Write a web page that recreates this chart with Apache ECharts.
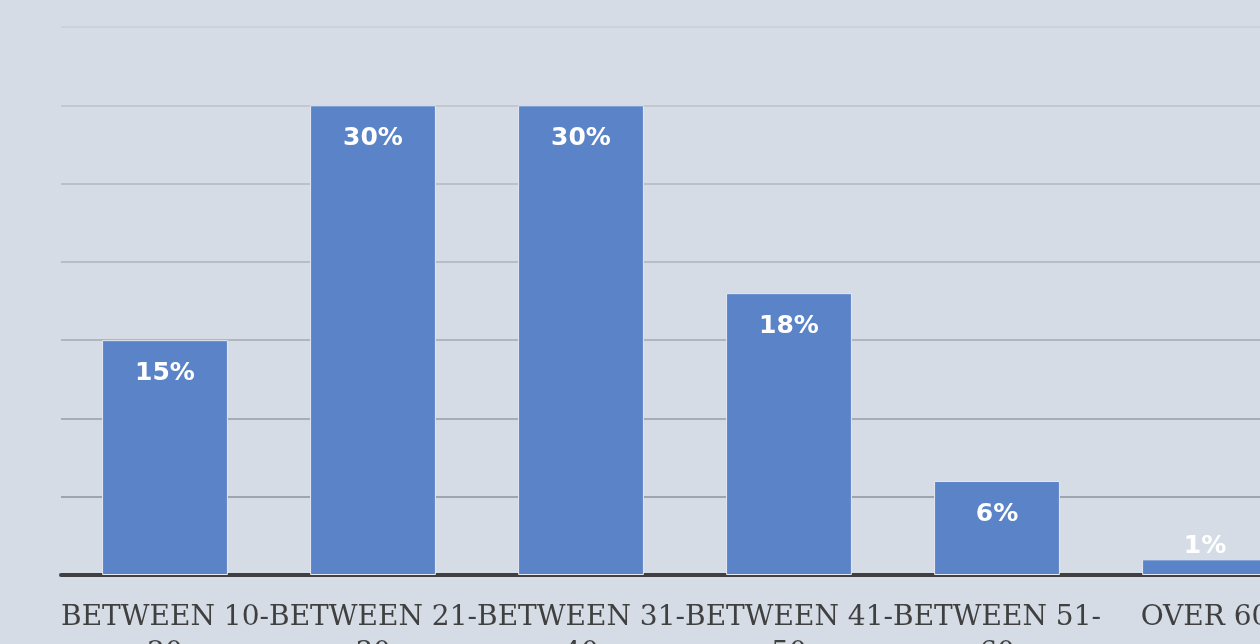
<!DOCTYPE html>
<html>
<head>
<meta charset="utf-8">
<script src="https://cdn.jsdelivr.net/npm/echarts@6/dist/echarts.min.js"></script>
<style>
  html, body { margin: 0; padding: 0; background: #d5dce6; }
  #chart { width: 1260px; height: 644px; }
</style>
</head>
<body>
<div id="chart"></div>
<script>
// Age groups and their share of respondents (%)
const categories = ['BETWEEN 10-20', 'BETWEEN 21-30', 'BETWEEN 31-40', 'BETWEEN 41-50', 'BETWEEN 51-60', 'OVER 60'];
const shares = [15, 30, 30, 18, 6, 1];
const yTicks = [0, 5, 10, 15, 20, 25, 30, 35];

const chart = echarts.init(document.getElementById('chart'));

const data = shares.map(v => ({
  value: v,
  // very short bars carry their label above the bar
  label: v < 3 ? { position: 'top', distance: 0 } : undefined
}));

chart.setOption({
  backgroundColor: '#d5dce6',
  animation: false,
  grid: { left: 61, top: 27, width: 1248, height: 548, containLabel: false, outerBoundsMode: 'none' },
  xAxis: {
    type: 'category',
    data: categories,
    axisTick: { show: false },
    axisLine: { lineStyle: { color: '#404040', width: 4 } },
    axisLabel: {
      margin: 25,
      color: '#404040',
      fontFamily: 'DejaVu Serif',
      fontSize: 28,
      lineHeight: 36,
      interval: 0,
      formatter: s => s.replace('-', '-\n')
    }
  },
  yAxis: {
    type: 'value',
    min: yTicks[0],
    max: yTicks[yTicks.length - 1],
    interval: 5,
    axisLabel: { show: false },
    axisLine: { show: false },
    axisTick: { show: false },
    splitLine: {
      lineStyle: {
        width: 1.5,
        color: ['#404040', '#8e929a', '#999da5', '#a4a8b0', '#aeb2ba', '#b3b7bf', '#bcc0c8', '#c9ced8']
      }
    }
  },
  series: [{
    type: 'bar',
    data: data,
    barCategoryGap: '39.5%',
    itemStyle: { color: '#5a83c8', borderColor: '#e4e9f2', borderWidth: 1 },
    label: {
      show: true,
      position: 'insideTop',
      distance: 21,
      formatter: p => p.value + '%',
      color: '#ffffff',
      fontFamily: 'DejaVu Sans',
      fontWeight: 'bold',
      fontSize: 25
    }
  }]
});
</script>
</body>
</html>
